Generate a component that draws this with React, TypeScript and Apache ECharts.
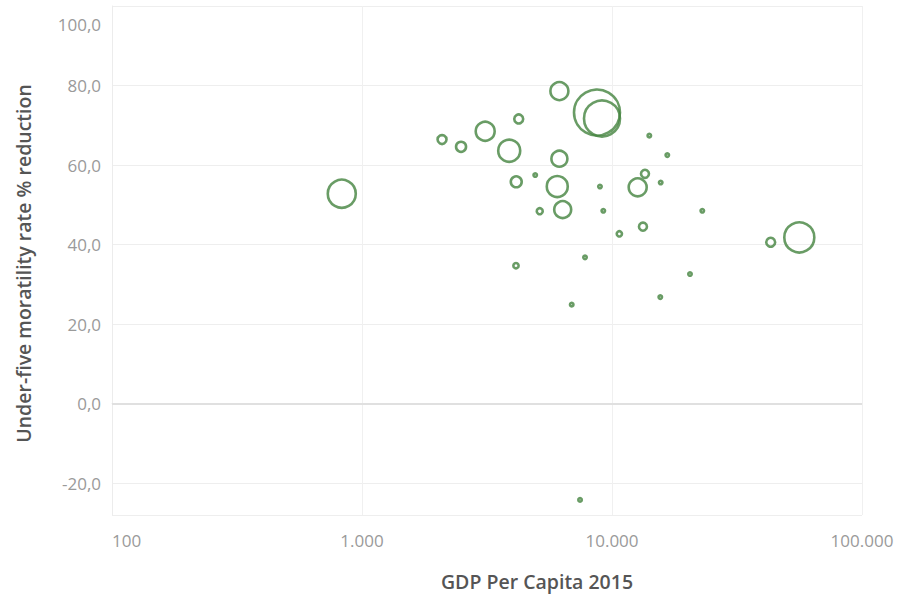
import React, { useEffect, useRef } from "react";
import * as echarts from "echarts";

// GDP per capita (2015, USD) for each country
const gdpPerCapita = [
  830, 2090, 2490, 3110, 3880, 4235, 4140, 4930, 5140, 4130, 6160, 6040, 6160,
  6350, 8710, 9120, 7800, 6900, 7450, 8950, 9230, 10700, 12670, 13550, 13300,
  14100, 15660, 16640, 15600, 20510, 22970, 43130, 56130,
];

// Under-five mortality rate reduction (%)
const mortalityReduction = [
  52.8, 66.4, 64.6, 68.5, 63.6, 71.6, 55.8, 57.5, 48.4, 34.7, 78.6, 54.6, 61.6,
  48.8, 73.2, 71.7, 36.8, 24.9, -24.2, 54.6, 48.5, 42.7, 54.4, 57.8, 44.5, 67.4,
  55.6, 62.5, 26.8, 32.6, 48.5, 40.6, 41.8,
];

// Size measure encoded by bubble area
const bubbleSize = [
  196, 20, 25, 90, 121, 20, 30, 3, 9, 7, 81, 110, 64, 72, 529, 324, 3, 3, 3, 3,
  3, 7, 81, 16, 16, 3, 3, 3, 3, 3, 3, 20, 225,
];

const xTicks = [100, 1000, 10000, 100000];
const yRange = [-28, 100];

const xAxisTitle = "GDP Per Capita 2015";
const yAxisTitle = "Under-five moratility rate % reduction";

const FONT = "'Open Sans', 'Noto Sans', sans-serif";

const formatThousands = (v: number) =>
  Math.round(v)
    .toString()
    .replace(/\B(?=(\d{3})+(?!\d))/g, ".");

const formatDecimal = (v: number) => v.toFixed(1).replace(".", ",");

export default function App() {
  const ref = useRef<HTMLDivElement>(null);

  useEffect(() => {
    if (!ref.current) return;
    const chart = echarts.init(ref.current, null, { renderer: "svg" });

    const points = gdpPerCapita.map((g, i) => [
      g,
      mortalityReduction[i],
      bubbleSize[i],
    ]);

    chart.setOption({
      animation: false,
      backgroundColor: "#ffffff",
      grid: {
        left: 112,
        right: 37,
        top: 6,
        bottom: 79,
        containLabel: false,
        outerBoundsMode: "none",
      },
      xAxis: {
        type: "log",
        logBase: 10,
        min: xTicks[0],
        max: xTicks[xTicks.length - 1],
        name: xAxisTitle,
        nameLocation: "middle",
        nameGap: 56,
        nameTextStyle: {
          color: "#555",
          fontFamily: FONT,
          fontSize: 19.5,
          fontWeight: 600,
          padding: [0, 0, 0, 100],
        },
        axisLine: { show: true, lineStyle: { color: "#ececec", width: 1 } },
        axisTick: { show: false },
        axisLabel: {
          color: "#9a9a9a",
          fontFamily: FONT,
          fontSize: 17,
          margin: 17,
          alignMinLabel: "left",
          formatter: (v: number) => formatThousands(v),
        },
        splitLine: { show: true, lineStyle: { color: "#f0f0f0", width: 1 } },
        minorSplitLine: { show: false },
      },
      yAxis: {
        type: "value",
        min: yRange[0],
        max: yRange[1],
        splitNumber: 6,
        minInterval: 20,
        maxInterval: 20,
        name: yAxisTitle,
        nameLocation: "middle",
        nameGap: 79,
        nameRotate: 90,
        nameTextStyle: {
          color: "#555",
          fontFamily: FONT,
          fontSize: 19.5,
          fontWeight: 600,
          padding: [0, 6, 0, 0],
        },
        axisLine: { show: true, lineStyle: { color: "#ececec", width: 1 } },
        axisTick: { show: false },
        axisLabel: {
          color: "#9a9a9a",
          fontFamily: FONT,
          fontSize: 17,
          margin: 11,
          showMinLabel: false,
          formatter: (v: number) => {
            if (Math.abs(v % 20) > 1e-9) return "";
            if (v === yRange[1]) return "{top|" + formatDecimal(v) + "}";
            return formatDecimal(v);
          },
          rich: {
            top: {
              color: "#9a9a9a",
              fontFamily: FONT,
              fontSize: 17,
              padding: [36, 0, 0, 0],
            },
          },
        },
        splitLine: {
          show: true,
          lineStyle: { color: "#eeeeee", width: 1 },
        },
      },
      series: [
        {
          type: "scatter",
          data: points,
          symbol: "circle",
          symbolSize: (d: number[]) => Math.sqrt(d[2]) * 2,
          itemStyle: {
            color: "rgba(255,255,255,0)",
            borderColor: "#43833e",
            borderWidth: 2.6,
          },
          markLine: {
            silent: true,
            symbol: "none",
            label: { show: false },
            lineStyle: { color: "#e0e0e0", width: 2, type: "solid" },
            data: [{ yAxis: 0 }],
          },
        },
      ],
    });

    return () => chart.dispose();
  }, []);

  return (
    <div
      ref={ref}
      style={{ position: "fixed", left: 0, top: 0, width: 899, height: 594 }}
    />
  );
}
